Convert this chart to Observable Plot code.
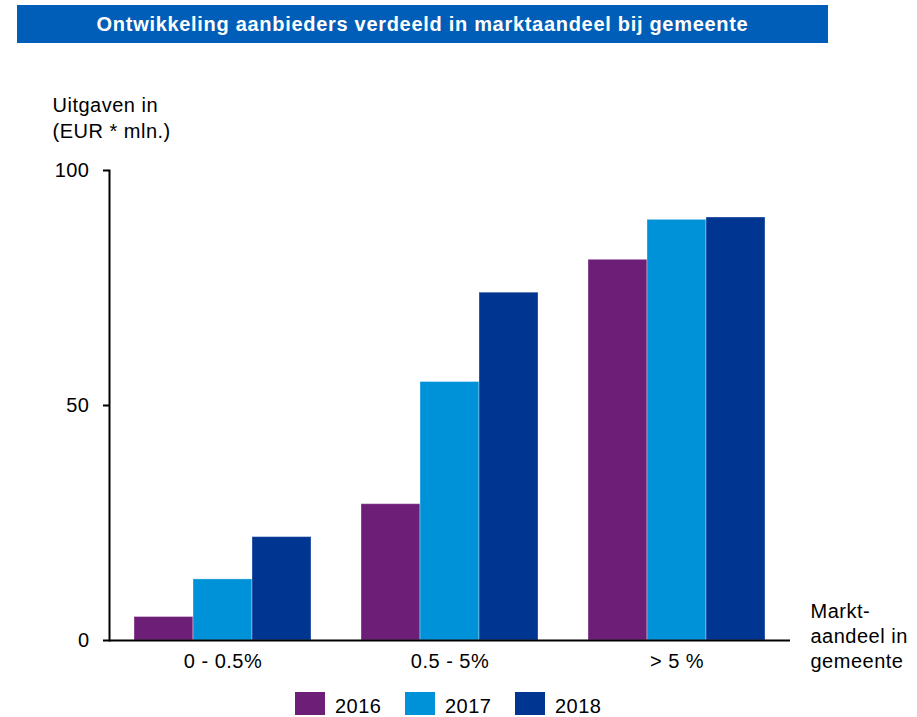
<!DOCTYPE html>
<html>
<head>
<meta charset="utf-8">
<script src="https://cdn.jsdelivr.net/npm/d3@7"></script>
<script src="https://cdn.jsdelivr.net/npm/@observablehq/plot@0.6"></script>
<style>
  body { margin: 0; background: #fff; }
  #wrap { position: relative; width: 917px; height: 717px; background: #fff; font-family: "Liberation Sans", Arial, sans-serif; color: #000; }
  #title { position: absolute; left: 17px; top: 5px; width: 811px; height: 38px; background: #005EB8; color: #fff; font-weight: bold; font-size: 20px; letter-spacing: 0.7px; text-align: center; line-height: 38px; }
  #chart { position: absolute; left: 0; top: 60px; }
  #legend { position: absolute; left: 295px; top: 692px; display: flex; font-size: 20px; letter-spacing: 0.5px; }
  .item { display: flex; align-items: flex-end; width: 110px; }
  .sw { width: 30px; height: 23px; margin-right: 10px; }
  .lb { line-height: 20px; margin-bottom: -1px; }
</style>
</head>
<body>
<div id="wrap">
  <div id="chart"></div>
  <div id="title"></div>
  <div id="legend"></div>
</div>
<script>
const titleText = "Ontwikkeling aanbieders verdeeld in marktaandeel bij gemeente";
const yLabel = "Uitgaven in\n(EUR * mln.)";
const xLabel = "Markt-\naandeel in\ngemeente";
const categories = ["0 - 0.5%", "0.5 - 5%", "> 5 %"];
const years = ["2016", "2017", "2018"];
const values2016 = [5, 29, 81];
const values2017 = [13, 55, 89.5];
const values2018 = [22, 74, 90];
const yTicks = [0, 50, 100];
const colors = ["#6D1F78", "#0092D8", "#003591"];

const seriesByYear = {"2016": values2016, "2017": values2017, "2018": values2018};
const data = [];
categories.forEach((c, i) => {
  years.forEach(y => data.push({cat: c, year: y, value: seriesByYear[y][i]}));
});

document.getElementById("title").textContent = titleText;

const chart = Plot.plot({
  width: 917,
  height: 630,
  marginTop: 110,
  marginBottom: 50,
  marginLeft: 108,
  marginRight: 127,
  style: {fontFamily: "'Liberation Sans', Arial, sans-serif", fontSize: "20px", color: "#000", background: "transparent", letterSpacing: "0.5px", overflow: "visible"},
  fx: {domain: categories, padding: 0},
  x: {domain: years, paddingInner: 0, paddingOuter: 0.4, axis: null},
  y: {domain: [0, 100], axis: null},
  color: {domain: years, range: colors},
  marks: [
    Plot.barY(data, {fx: "cat", x: "year", y: "value", fill: "year", stroke: "white", strokeOpacity: 0.35, strokeWidth: 1}),
    Plot.frame({anchor: "left", strokeWidth: 2, facetAnchor: "left"}),
    Plot.ruleY([0], {strokeWidth: 2}),
    Plot.axisY({ticks: yTicks, tickSize: 6, tickPadding: 14, label: null, strokeWidth: 2}),
    Plot.axisFx({anchor: "bottom", tickSize: 0, tickPadding: 13, label: null}),
    Plot.text([yLabel], {frameAnchor: "top-left", textAnchor: "start", lineAnchor: "top", dx: -57, dy: -77, lineHeight: 1.3, facetAnchor: "left"}),
    Plot.text([xLabel], {frameAnchor: "bottom-right", textAnchor: "start", lineAnchor: "top", dx: 20, dy: -40, lineHeight: 1.25, facetAnchor: "right"})
  ]
});
document.getElementById("chart").appendChild(chart);

const colorScale = chart.scale("color");
const legend = document.getElementById("legend");
colorScale.domain.forEach(y => {
  const item = document.createElement("div");
  item.className = "item";
  const sw = document.createElement("div");
  sw.className = "sw";
  sw.style.background = colorScale.apply(y);
  const lb = document.createElement("div");
  lb.className = "lb";
  lb.textContent = y;
  item.appendChild(sw);
  item.appendChild(lb);
  legend.appendChild(item);
});
</script>
</body>
</html>
